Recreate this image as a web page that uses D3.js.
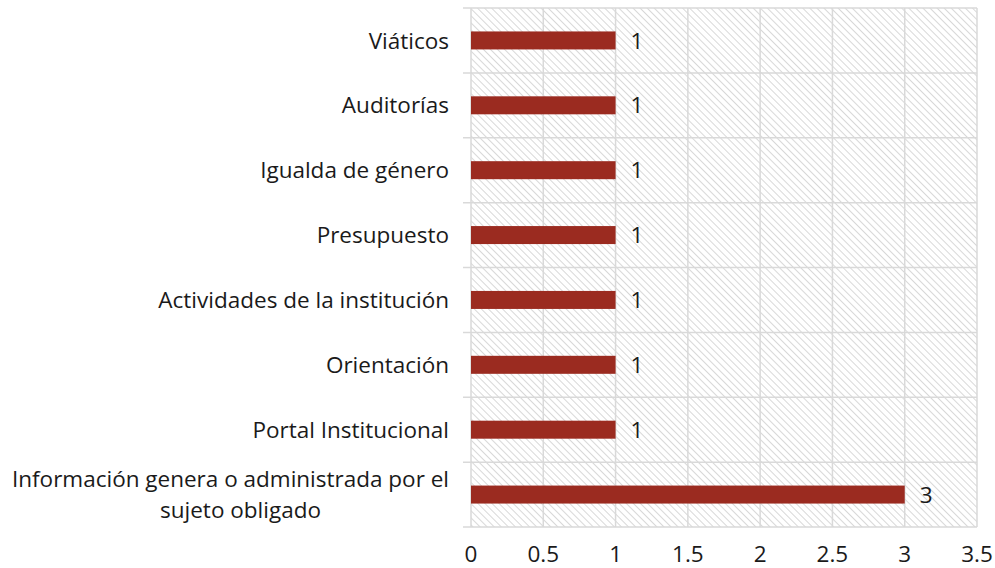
<!DOCTYPE html>
<html>
<head>
<meta charset="utf-8">
<script src="https://cdn.jsdelivr.net/npm/d3@7"></script>
<style>
  body { margin: 0; background: #fff; }
  svg text { font-family: "Open Sans", "Noto Sans", sans-serif; fill: #1a1a1a; }
</style>
</head>
<body>
<svg id="chart" width="995" height="568"></svg>
<script>
// categories, top to bottom
var categorias = [
  "Viáticos",
  "Auditorías",
  "Igualda de género",
  "Presupuesto",
  "Actividades de la institución",
  "Orientación",
  "Portal Institucional",
  "Información genera o administrada por el|sujeto obligado"
];
var valores = [1, 1, 1, 1, 1, 1, 1, 3];
var ticksX = [0, 0.5, 1, 1.5, 2, 2.5, 3, 3.5];

var svg = d3.select("#chart"),
    margin = {top: 8, right: 18, bottom: 41, left: 471},
    width = 995 - margin.left - margin.right,
    height = 568 - margin.top - margin.bottom;

var gridColor = "#d9d9d9";
var fs = "22.5px";

// hatch pattern for plot background
var defs = svg.append("defs");
var pat = defs.append("pattern")
  .attr("id", "hatch")
  .attr("patternUnits", "userSpaceOnUse")
  .attr("width", 5).attr("height", 5)
  .attr("patternTransform", "rotate(45)");
pat.append("rect").attr("width", 5).attr("height", 5).attr("fill", "#fff");
pat.append("line")
  .attr("x1", 0).attr("y1", 0).attr("x2", 5).attr("y2", 0)
  .attr("stroke", "#cfcfcf").attr("stroke-width", 1.6);

var x = d3.scaleLinear().domain([0, 3.5]).range([0, width]);
var y = d3.scaleBand().domain(categorias).range([0, height]);

var g = svg.append("g").attr("transform", "translate(" + margin.left + "," + margin.top + ")");

g.append("rect")
  .attr("width", width).attr("height", height)
  .attr("fill", "url(#hatch)");

// vertical gridlines
g.selectAll(".vgrid")
  .data(ticksX)
  .enter().append("line")
  .attr("x1", x).attr("x2", x)
  .attr("y1", 0).attr("y2", height)
  .attr("stroke", gridColor).attr("stroke-width", 1.5);

// horizontal separators with tick marks out to the left
var seps = categorias.map(function(c) { return y(c); }).concat([height]);
g.selectAll(".hgrid")
  .data(seps)
  .enter().append("line")
  .attr("x1", -8).attr("x2", width)
  .attr("y1", function(d) { return d; }).attr("y2", function(d) { return d; })
  .attr("stroke", gridColor).attr("stroke-width", 1.5);

// bars
var barH = 18;
g.selectAll(".bar")
  .data(valores)
  .enter().append("rect")
  .attr("x", x(0))
  .attr("y", function(d, i) { return y(categorias[i]) + y.bandwidth() / 2 - barH / 2; })
  .attr("width", function(d) { return x(d) - x(0); })
  .attr("height", barH)
  .attr("fill", "#9b2b20");

// value labels
g.selectAll(".val")
  .data(valores)
  .enter().append("text")
  .attr("x", function(d) { return x(d) + 15; })
  .attr("y", function(d, i) { return y(categorias[i]) + y.bandwidth() / 2; })
  .attr("dy", "0.36em")
  .style("font-size", fs)
  .text(function(d) { return d; });

// category labels (wrapped label drawn as one text with two tspans)
categorias.forEach(function(c) {
  var lines = c.split("|");
  var cy = y(c) + y.bandwidth() / 2;
  var t = g.append("text")
    .style("font-size", fs);
  if (lines.length == 1) {
    t.attr("x", -22).attr("y", cy).attr("dy", "0.36em")
      .attr("text-anchor", "end")
      .text(lines[0]);
  } else {
    var l1 = t.append("tspan")
      .attr("x", -22).attr("y", cy - 16).attr("dy", "0.36em")
      .attr("text-anchor", "end")
      .text(lines[0]);
    var w = l1.node().getComputedTextLength();
    t.append("tspan")
      .attr("x", -22 - w / 2 + 10).attr("y", cy + 15).attr("dy", "0.36em")
      .attr("text-anchor", "middle")
      .text(lines[1]);
  }
});

// x tick labels
g.selectAll(".xt")
  .data(ticksX)
  .enter().append("text")
  .attr("x", x)
  .attr("y", height + 27)
  .attr("dy", "0.36em")
  .attr("text-anchor", "middle")
  .style("font-size", fs)
  .text(function(d) { return d; });
</script>
</body>
</html>
